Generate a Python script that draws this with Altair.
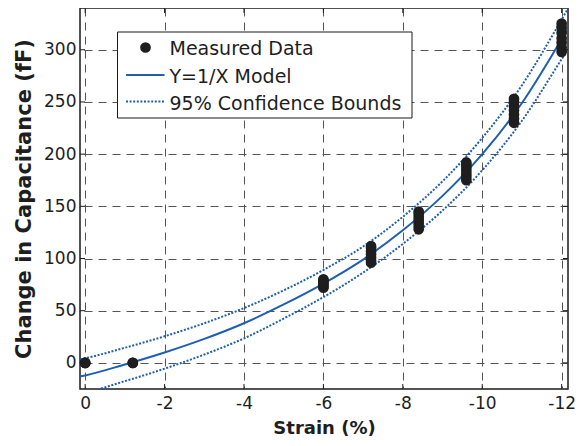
import altair as alt
import pandas as pd

W, H = 488, 381

x_ticks = [0, -2, -4, -6, -8, -10, -12]
y_ticks = [0, 50, 100, 150, 200, 250, 300]

# measured data: strain levels and the capacitance readings at each level
strain_levels = [0.0, -1.2, -6.0, -7.2, -8.4, -9.6, -10.8, -12.0]
cap_at_level = [
    [0, 0, 0],
    [0, 0],
    [72, 73, 75, 76, 78, 79, 80],
    [96, 98, 101, 104, 107, 110, 112],
    [128, 131, 134, 137, 140, 143, 145],
    [175, 178, 181, 184, 187, 190, 192],
    [230, 234, 238, 242, 246, 250, 253],
    [298, 302, 307, 311, 316, 321, 325],
]

# model curve and 95% bounds
fit_x = [0.13, 0.0, -1, -2, -3, -4, -5, -6, -7, -8, -9, -10, -11, -12, -12.16]
fit_y = [-13, -12, -1.5, 10, 23, 38, 56, 76, 99, 127, 160, 200, 249, 310, 320]
upper_y = [3.5, 4.5, 14.5, 25.5, 38, 52.5, 69.5, 89, 111.5, 140, 174, 215.5, 266, 329, 339.5]
lower_y = [-29.5, -28.5, -17.5, -5.5, 8, 23.5, 42.5, 63, 86.5, 114, 146, 184.5, 232, 291, 300.5]

legend_labels = ["Measured Data", "Y=1/X Model", "95% Confidence Bounds"]

pts = pd.DataFrame(
    [{"x": s, "y": v} for s, vals in zip(strain_levels, cap_at_level) for v in vals]
)
model = pd.DataFrame({"x": fit_x, "y": fit_y, "o": range(len(fit_x))})
bounds = pd.DataFrame(
    {
        "x": fit_x + fit_x,
        "y": upper_y + lower_y,
        "curve": ["upper"] * len(fit_x) + ["lower"] * len(fit_x),
        "o": list(range(len(fit_x))) * 2,
    }
)
xt = pd.DataFrame({"x": x_ticks})
yt = pd.DataFrame({"y": y_ticks})

FONT = "DejaVu Sans"
BLUE = "#1f5fb0"
DARK = "#1e1e1e"

xscale = alt.Scale(domain=[-12.16, 0.13], reverse=True, nice=False, zero=False)
yscale = alt.Scale(domain=[-25, 340], nice=False, zero=False)
xaxis = alt.Axis(
    values=x_ticks,
    labelExpr="datum.value + ''",
    labelPadding=6,
    titlePadding=8,
)
yaxis = alt.Axis(values=y_ticks, labelPadding=4, titlePadding=9)

X = alt.X("x:Q", scale=xscale, axis=xaxis, title="Strain (%)")
Y = alt.Y("y:Q", scale=yscale, axis=yaxis, title="Change in Capacitance (fF)")

lower_upper = (
    alt.Chart(bounds)
    .mark_line(color=BLUE, strokeWidth=2, strokeDash=[2, 1.6], clip=True, interpolate="monotone")
    .encode(x=X, y=Y, detail="curve:N", order="o:Q")
)
model_line = (
    alt.Chart(model)
    .mark_line(color=BLUE, strokeWidth=2, clip=True, interpolate="monotone")
    .encode(x=X, y=Y, order="o:Q")
)
points = (
    alt.Chart(pts)
    .mark_circle(color=DARK, size=115, opacity=1)
    .encode(x=X, y=Y)
)

tick_col = "#1a1a1a"
t_bottom = alt.Chart(xt).mark_rule(color=tick_col).encode(x=X, y=alt.value(H), y2=alt.value(H - 5))
t_top = alt.Chart(xt).mark_rule(color=tick_col).encode(x=X, y=alt.value(0), y2=alt.value(5))
t_left = alt.Chart(yt).mark_rule(color=tick_col).encode(y=Y, x=alt.value(0), x2=alt.value(5))
t_right = alt.Chart(yt).mark_rule(color=tick_col).encode(y=Y, x=alt.value(W), x2=alt.value(W - 5))

one = pd.DataFrame({"k": [0]})
leg_box = alt.Chart(one).mark_rect(fill="white", stroke="#1a1a1a", strokeWidth=1).encode(
    x=alt.value(37.5), x2=alt.value(332), y=alt.value(24), y2=alt.value(110)
)
leg_dot = alt.Chart(one).mark_circle(color=DARK, size=115, opacity=1).encode(
    x=alt.value(65.5), y=alt.value(39.5)
)
leg_solid = alt.Chart(one).mark_rule(color=BLUE, strokeWidth=2).encode(
    x=alt.value(46), x2=alt.value(84.5), y=alt.value(67)
)
leg_dotted = alt.Chart(one).mark_rule(color=BLUE, strokeWidth=2, strokeDash=[2, 1.6]).encode(
    x=alt.value(46), x2=alt.value(84.5), y=alt.value(93.5)
)
leg_texts = [
    alt.Chart(one)
    .mark_text(align="left", baseline="middle", font=FONT, fontSize=19, color=DARK)
    .encode(x=alt.value(89.5), y=alt.value(yy), text=alt.value(lab))
    for lab, yy in zip(legend_labels, [40.5, 68.5, 96])
]

chart = (
    alt.layer(
        lower_upper,
        model_line,
        points,
        t_bottom,
        t_top,
        t_left,
        t_right,
        leg_box,
        leg_dot,
        leg_solid,
        leg_dotted,
        *leg_texts,
    )
    .properties(
        width=W,
        height=H,
        autosize=alt.AutoSizeParams(type="none"),
        padding={"left": 72, "top": 0, "right": 7, "bottom": 49},
    )
    .configure_view(stroke="#1a1a1a", strokeWidth=1.5)
    .configure_axis(
        labelFont=FONT,
        labelFontSize=17,
        labelColor=DARK,
        titleFont=FONT,
        titleFontSize=18,
        titleFontWeight="bold",
        titleColor=DARK,
        grid=True,
        gridDash=[8, 6],
        gridColor="#555555",
        gridOpacity=1,
        gridWidth=1,
        ticks=False,
        domain=False,
    )
    .configure_axisY(titleFontSize=21)
)

chart.save("out.html", embed_options={"renderer": "svg", "actions": False})
